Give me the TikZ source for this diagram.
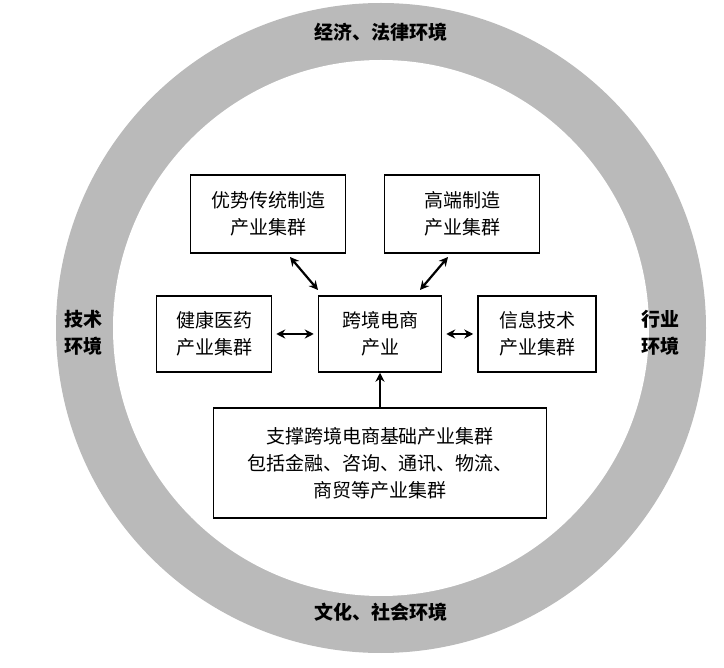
\documentclass[tikz,border=0pt]{standalone}
\usepackage{fontspec}
\setmainfont{Noto Sans CJK SC}
\usetikzlibrary{positioning, arrows.meta}

\begin{document}
\begin{tikzpicture}[x=1pt, y=-1pt, >={Stealth[length=9pt, width=9pt]},
    box/.style={draw, line width=1.5pt, align=center, inner sep=0pt, font=\fontsize{19}{27}\selectfont},
    env/.style={font=\fontsize{19}{27}\selectfont\bfseries, align=center},
    link/.style={line width=2.2pt}]
    \useasboundingbox (0,0) rectangle (724,668);
    % Rings
    \fill[black!27] (381,328) circle (325);
    \fill[white] (381,328) circle (268);

    % Boxes
    \node[box, minimum width=155, minimum height=78] (trad) at (268,214) {优势传统制造\\产业集群};
    \node[box, minimum width=155, minimum height=78] (high) at (462,214) {高端制造\\产业集群};
    \node[box, minimum width=115, minimum height=76] (med) at (214,334) {健康医药\\产业集群};
    \node[box, minimum width=123, minimum height=76] (core) at (380,334) {跨境电商\\产业};
    \node[box, minimum width=118, minimum height=76] (info) at (537,334) {信息技术\\产业集群};
    \node[box, minimum width=333, minimum height=110] (base) at (380,463) {支撑跨境电商基础产业集群\\包括金融、咨询、通讯、物流、\\商贸等产业集群};

    % Environments
    \node[env] (econ) at (381,32) {经济、法律环境};
    \node[env] (soc) at (381,612) {文化、社会环境};
    \node[env] (tech) at (83,333) {技术\\环境};
    \node[env] (ind) at (660,333) {行业\\环境};

    % Links
    \coordinate (t1) at (290,257);
    \coordinate (c1) at (318,290);
    \coordinate (h1) at (448,257);
    \coordinate (c2) at (420,290);
    \draw[<->, link] (t1) -- (c1);
    \draw[<->, link] (h1) -- (c2);
    \draw[<->, link] ([xshift=4]med.east) -- ([xshift=-4]core.west);
    \draw[<->, link] ([xshift=4]core.east) -- ([xshift=-4]info.west);
    \draw[->, link] (base.north) -- (core.south);
\end{tikzpicture}
\end{document}
